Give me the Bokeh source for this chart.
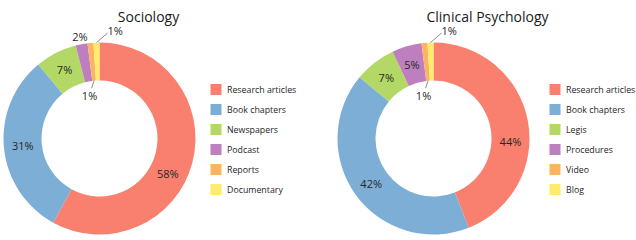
import math
from bokeh.plotting import figure
from bokeh.models import Range1d
from bokeh.core.properties import value
from bokeh.embed import file_html
from bokeh.resources import INLINE

# ---------------- data ----------------
soc_title = "Sociology"
soc_categories = ["Research articles", "Book chapters", "Newspapers", "Podcast", "Reports", "Documentary"]
soc_values = [58, 31, 7, 2, 1, 1]

clin_title = "Clinical Psychology"
clin_categories = ["Research articles", "Book chapters", "Legis", "Procedures", "Video", "Blog"]
clin_values = [44, 42, 7, 5, 1, 1]

colors = ["#F9806F", "#7DAED5", "#B3D865", "#BE7FBE", "#FDB462", "#FFEC6C"]

# ---------------- style ----------------
FONT = "Open Sans"
TEXT_COLOR = "#262626"
W, H = 636, 240
R_OUT, R_IN = 96, 58
FIRST_LABEL_TURN = 13.0  # degrees

p = figure(width=W, height=H, output_backend="svg", toolbar_location=None,
           x_range=Range1d(0, W), y_range=Range1d(0, H),
           x_axis_type=None, y_axis_type=None, min_border=0)
p.grid.visible = False
p.outline_line_color = None
p.background_fill_color = "white"
p.border_fill_color = "white"


def Y(page_y):
    return H - page_y


def donut(title, cats, vals, cx, cy, title_x, legend_x, legend_top):
    total = float(sum(vals))
    cum = 0.0
    starts, ends, mids = [], [], []
    for v in vals:
        a0 = 360.0 * cum / total
        cum += v
        a1 = 360.0 * cum / total
        starts.append(math.radians(90 - a0))
        ends.append(math.radians(90 - a1))
        mids.append((a0 + a1) / 2)
    p.annular_wedge(x=[cx] * len(vals), y=[Y(cy)] * len(vals),
                    inner_radius=R_IN, outer_radius=R_OUT,
                    start_angle=starts, end_angle=ends, direction="clock",
                    fill_color=colors[:len(vals)], line_color=None)

    def pt(phi, r):
        return cx + r * math.sin(math.radians(phi)), cy - r * math.cos(math.radians(phi))

    lx, ly, lt = [], [], []
    ox, oy, ot = [], [], []
    seg = [[], [], [], []]
    small = 0
    for i, v in enumerate(vals):
        pct = round(100 * v / total)
        label = f"{pct}%"
        phi = mids[i] + (FIRST_LABEL_TURN if i == 0 else 0)
        if pct >= 5:
            x, y = pt(phi, (R_OUT + R_IN) / 2)
            lx.append(x); ly.append(Y(y)); lt.append(label)
        elif pct >= 2:
            x, y = pt(phi, R_OUT + 8)
            lx.append(x); ly.append(Y(y)); lt.append(label)
        else:
            if small == 0:
                x0, y0 = pt(phi, R_IN)
                x1, y1 = x0 - 2.5, y0 + 7.5
                lx.append(x1 - 2); ly.append(Y(y1 + 7.5)); lt.append(label)
            else:
                x0, y0 = pt(phi, R_OUT)
                x1, y1 = x0 + 11, y0 - 9.5
                ox.append(x1); oy.append(Y(y1 - 3)); ot.append(label)
            seg[0].append(x0); seg[1].append(Y(y0)); seg[2].append(x1); seg[3].append(Y(y1))
            small += 1
    p.segment(x0=seg[0], y0=seg[1], x1=seg[2], y1=seg[3], line_color="#8c8c8c", line_width=1)
    p.text(x=lx, y=ly, text=lt, text_align="center", text_baseline="middle",
           text_font=value(FONT), text_font_size="11px", text_color=TEXT_COLOR)
    p.text(x=ox, y=oy, text=ot, text_align="left", text_baseline="middle",
           text_font=value(FONT), text_font_size="11px", text_color=TEXT_COLOR)

    # title
    p.text(x=[title_x], y=[Y(15.5)], text=[title], text_align="center", text_baseline="alphabetic",
           text_font=value(FONT), text_font_size="14px", text_color="#1a1a1a")

    # legend
    n = len(cats)
    rows = [Y(legend_top + 20 * i) for i in range(n)]
    p.rect(x=[legend_x + 5.5] * n, y=rows, width=11, height=11,
           fill_color=colors[:n], line_color=None)
    p.text(x=[legend_x + 16.5] * n, y=rows, text=cats, text_align="left", text_baseline="middle",
           text_font=value(FONT), text_font_size="8.8px", text_color=TEXT_COLOR)


donut(soc_title, soc_categories, soc_values, cx=99, cy=138, title_x=148, legend_x=210, legend_top=89)
donut(clin_title, clin_categories, clin_values, cx=433, cy=138, title_x=487, legend_x=549, legend_top=89)

open("out.html", "w").write(file_html(p, INLINE))
